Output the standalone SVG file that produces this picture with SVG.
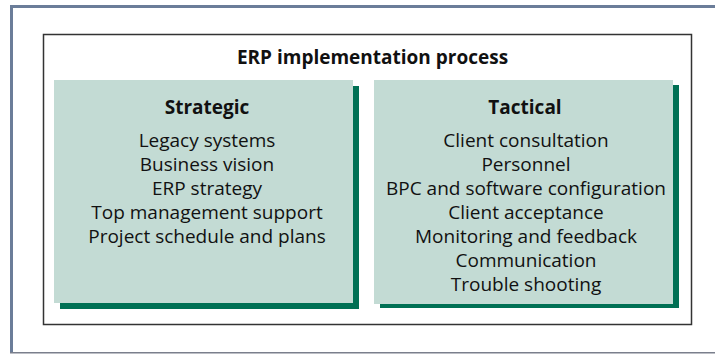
<svg xmlns="http://www.w3.org/2000/svg" width="715" height="354" viewBox="0 0 715 354">
<style>
.t{font-family:"Open Sans","Noto Sans","Liberation Sans",sans-serif;fill:#111;text-anchor:middle}
.h{font-weight:bold;font-size:19px}
.i{font-size:19px}
.panel{fill:#c3dbd4}
.shadow{fill:#007054}
</style>
<g id="frame">
<rect x="10" y="5" width="705" height="3" fill="#6b7d99"/>
<rect x="10" y="5" width="3" height="348" fill="#6b7d99"/>
<rect x="10" y="352" width="705" height="1.5" fill="#7a7f8c"/>
</g>
<g id="process">
<rect x="43.5" y="34.5" width="648" height="290" fill="#fff" stroke="#333" stroke-width="1.5"/>
<text class="t h" x="372.5" y="64">ERP implementation process</text>
</g>
<g id="strategic">
<rect class="shadow" x="60" y="86" width="299" height="223"/>
<rect class="panel" x="54" y="80" width="299" height="223"/>
<text class="t h" x="207" y="114">Strategic</text>
<text class="t i" x="207" y="147">Legacy systems</text>
<text class="t i" x="207" y="171">Business vision</text>
<text class="t i" x="207" y="195">ERP strategy</text>
<text class="t i" x="207" y="219">Top management support</text>
<text class="t i" x="207" y="243">Project schedule and plans</text>
</g>
<g id="tactical">
<rect class="shadow" x="380" y="85" width="299" height="223"/>
<rect class="panel" x="374" y="80" width="299" height="224"/>
<text class="t h" x="525" y="114">Tactical</text>
<text class="t i" x="526" y="147">Client consultation</text>
<text class="t i" x="526" y="171">Personnel</text>
<text class="t i" x="526" y="195">BPC and software configuration</text>
<text class="t i" x="526" y="219">Client acceptance</text>
<text class="t i" x="526" y="243">Monitoring and feedback</text>
<text class="t i" x="526" y="267">Communication</text>
<text class="t i" x="526" y="291">Trouble shooting</text>
</g>
<g id="connectors"/>
</svg>
